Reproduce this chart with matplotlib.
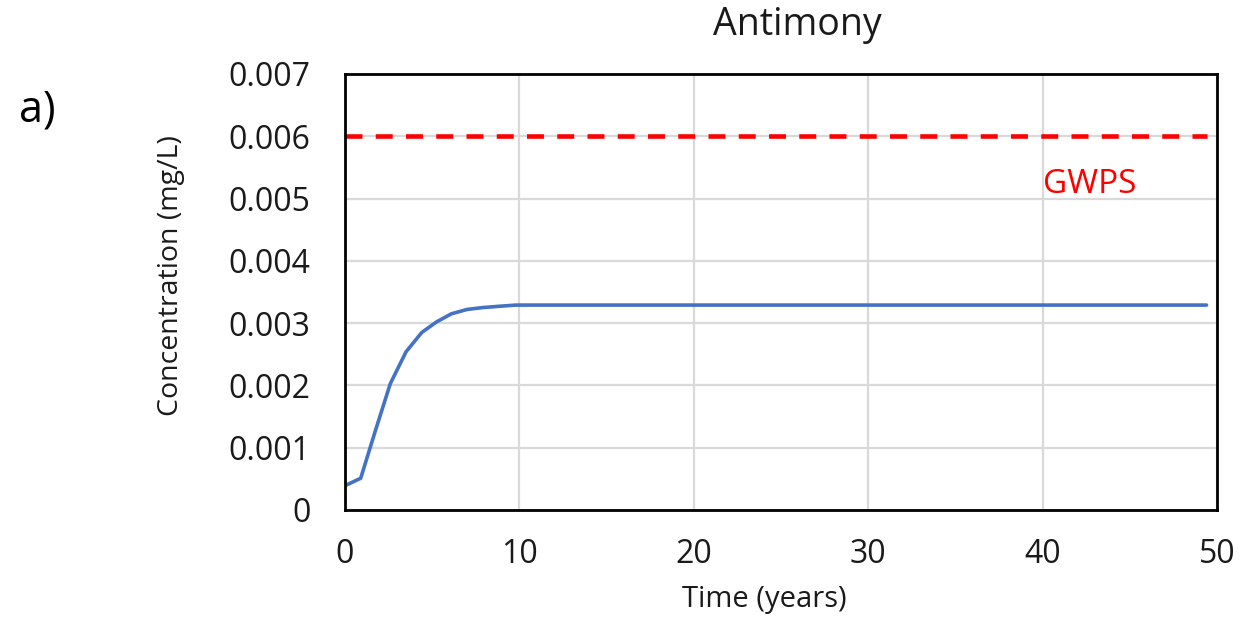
import matplotlib
matplotlib.use('Agg')
import matplotlib.pyplot as plt
import numpy as np

plt.rcParams['font.family'] = ['Open Sans', 'DejaVu Sans']

# Sb concentration
years = [0, 0.9, 1.75, 2.6, 3.5, 4.4, 5.25, 6.1, 7.0, 7.9, 8.8, 9.8,
         15, 20, 30, 40, 49.4]
conc = [0.00039, 0.00051, 0.00128, 0.00203, 0.00254, 0.00285, 0.00302,
        0.00315, 0.00322, 0.00325, 0.00327, 0.00329,
        0.00329, 0.00329, 0.00329, 0.00329, 0.00329]

gwps = 0.006
gwps_span = [0, 49.4]

xticks = [0, 10, 20, 30, 40, 50]
yticks = [0, 0.001, 0.002, 0.003, 0.004, 0.005, 0.006, 0.007]
ytick_labels = ['0', '0.001', '0.002', '0.003', '0.004', '0.005', '0.006', '0.007']

W, H = 1241, 621
fig = plt.figure(figsize=(W / 100, H / 100), dpi=100)
ax = fig.add_axes([345 / W, 1 - 510 / H, 872 / W, 436 / H])

ax.plot(years, conc, color='#4472C4', linewidth=2.6, solid_capstyle='round')
ax.plot(gwps_span, [gwps, gwps], color='#FF0000', linewidth=3.3,
        dashes=(3.7, 2.9))
ax.text(40.0, 0.00522, 'GWPS', color='#FF0000', fontsize=24,
        va='center', ha='left')

ax.set_xlim(0, 50)
ax.set_ylim(0, 0.007)
ax.set_xticks(xticks)
ax.set_yticks(yticks)
ax.set_yticklabels(ytick_labels)
ax.tick_params(length=0, labelsize=23, colors='#1a1a1a')
ax.tick_params(axis='y', pad=25)
ax.tick_params(axis='x', pad=20)
ax.grid(True, color='#d9d9d9', linewidth=1.6)
ax.set_axisbelow(True)
for s in ax.spines.values():
    s.set_linewidth(2)
    s.set_color('black')

fig.text(797 / W, 1 - 25 / H, 'Antimony', fontsize=27, ha='center',
         va='center', color='#1a1a1a')
fig.text(764 / W, 1 - 600 / H, 'Time (years)', fontsize=21, ha='center',
         va='center', color='#1a1a1a')
fig.text(171 / W, 1 - 276 / H, 'Concentration (mg/L)', fontsize=20.5,
         ha='center', va='center', rotation=90, color='#1a1a1a')

fig.text(19 / W, 1 - 110 / H, 'a)', fontsize=31, va='center', ha='left')

fig.savefig('out.png', dpi=100)
